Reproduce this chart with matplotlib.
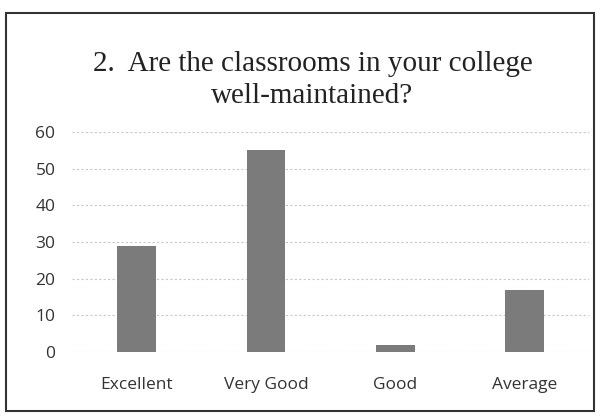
import matplotlib.pyplot as plt
from matplotlib.patches import Rectangle

categories = ['Excellent', 'Very Good', 'Good', 'Average']
values = [29, 55, 2, 17]
yticks = [0, 10, 20, 30, 40, 50, 60]

fig = plt.figure(figsize=(6.01, 4.19), dpi=100)
ax = fig.add_axes([0.12, 0.16, 0.86, 0.525])

ax.bar(categories, values, width=0.3, color='#7b7b7b', zorder=3)
ax.set_ylim(0, 60)
ax.set_xlim(-0.5, 3.5)
ax.set_yticks(yticks)
ax.grid(axis='y', color='#c8c8c8', linestyle=(0, (2, 2)), linewidth=0.8, zorder=0)
for s in ax.spines.values():
    s.set_visible(False)
ax.tick_params(length=0, labelsize=12.5, colors='#333333')
ax.tick_params(axis='y', pad=12)
ax.tick_params(axis='x', pad=18)
for lbl in ax.get_xticklabels() + ax.get_yticklabels():
    lbl.set_family('Open Sans')

fig.text(0.52, 0.81, '2.  Are the classrooms in your college\nwell-maintained?',
         ha='center', va='center', fontsize=21, family='Liberation Serif',
         color='#222222', linespacing=1.3)

# outer frame
fig.patches.append(Rectangle((0.01, 0.02), 0.978, 0.95, transform=fig.transFigure,
                             fill=False, edgecolor='#333333', linewidth=1.5))

fig.savefig('out.png', dpi=100)
